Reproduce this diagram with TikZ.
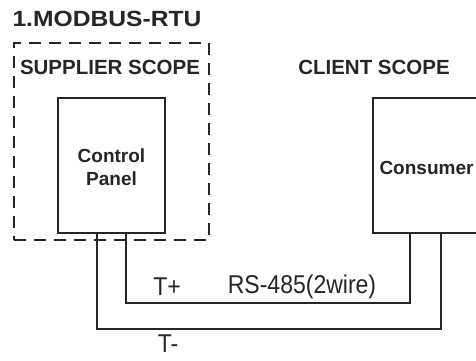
\documentclass[tikz,border=0pt]{standalone}
\usepackage{fontspec}
\setmainfont{Liberation Sans}
\begin{document}
\begin{tikzpicture}[x=1pt,y=-1pt,
  box/.style={draw=black!85,line width=1.4pt,minimum width=107pt,minimum height=135pt,inner sep=0pt},
  scopebox/.style={draw=black!85,line width=1.8pt,dash pattern=on 12pt off 8pt,minimum width=195pt,minimum height=197pt,inner sep=0pt},
  head/.style={font=\fontsize{20.5}{24}\selectfont\bfseries,text=black!85,inner sep=0pt},
  lbl/.style={font=\fontsize{19}{23}\selectfont\bfseries,text=black!85,inner sep=0pt,align=center},
  wlbl/.style={font=\fontsize{23}{26}\selectfont,text=black!85,inner sep=0pt},
  wire/.style={draw=black!85,line width=1.4pt}]
\useasboundingbox (0,0) rectangle (476,360);
\fill[white] (0,0) rectangle (476,360);
\node[head,font=\fontsize{22}{26}\selectfont\bfseries] (title) at (107,19) {\scalebox{1.12}[1]{1.MODBUS-RTU}};
\node[scopebox] (sup) at (111.5,141.5) {};
\node[head] (suplbl) at (110,67) {SUPPLIER SCOPE};
\node[head] (clilbl) at (374,67) {CLIENT SCOPE};
\node[box] (cp) at (111.5,165.5) {};
\node[lbl] (cptxt) at (111.5,167) {Control\\Panel};
\node[box,minimum width=108pt] (cons) at (427,165.5) {};
\node[lbl] (constxt) at (426.5,168) {Consumer};
\coordinate (xa) at (97,0);
\coordinate (xb) at (126,0);
\coordinate (xc) at (410,0);
\coordinate (xd) at (441,0);
\coordinate (yp) at (0,303);
\coordinate (ym) at (0,329);
\draw[wire] (cp.south -| xb) -- (xb |- yp) -- (xc |- yp) -- (cons.south -| xc);
\draw[wire] (cp.south -| xa) -- (xa |- ym) -- (xd |- ym) -- (cons.south -| xd);
\node[wlbl] (tp) at (167,287) {\scalebox{1}[1.12]{T+}};
\node[wlbl] (rs) at (302,287) {\scalebox{1}[1.12]{RS-485(2wire)}};
\node[wlbl] (tm) at (168,344) {\scalebox{1}[1.12]{T-}};
\end{tikzpicture}
\end{document}
